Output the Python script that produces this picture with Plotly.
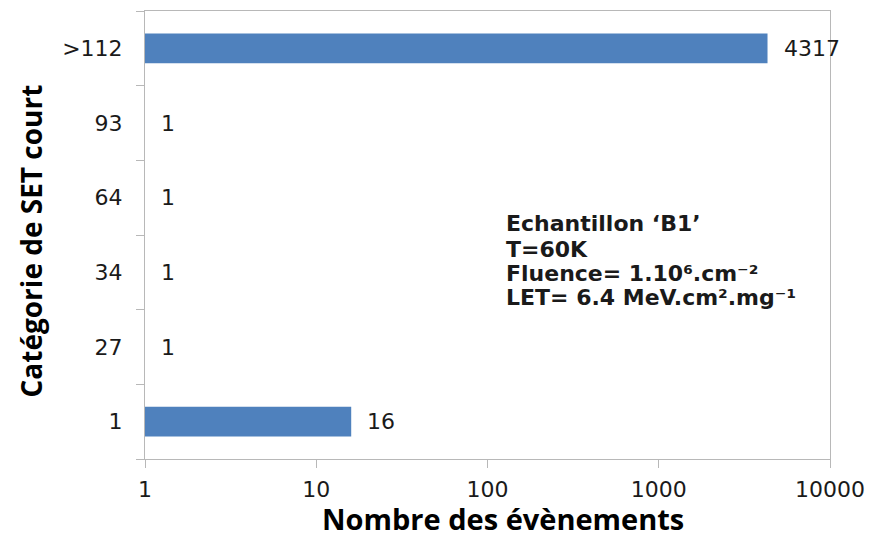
import numpy as np
import plotly.graph_objects as go

# Short-SET category counts (horizontal bars on a log scale)
categories = ["1", "27", "34", "64", "93", ">112"]
events = [16, 1, 1, 1, 1, 4317]

x_tick_values = [1, 10, 100, 1000, 10000]
x_tick_labels = ["1", "10", "100", "1000", "10000"]

info_lines = [
    "Echantillon ‘B1’",
    "T=60K",
    "Fluence= 1.10⁶.cm⁻²",
    "LET= 6.4 MeV.cm².mg⁻¹",
]

BAR_COLOR = "#4f81bd"
FRAME_COLOR = "#b8b8b8"
TEXT_COLOR = "#1a1a1a"
LABEL_FONT = "DejaVu Sans"
TITLE_FONT = "Open Sans"

W, H = 875, 535
M_L, M_R, M_T, M_B = 145, 39, 10, 76
plot_w = W - M_L - M_R
plot_h = H - M_T - M_B


def px_to_paper_x(px):
    return (px - M_L) / plot_w


def px_to_paper_y(py):
    return (H - M_B - py) / plot_h


fig = go.Figure(
    go.Bar(
        y=categories,
        x=events,
        orientation="h",
        width=0.4,
        marker=dict(color=BAR_COLOR, line=dict(width=0)),
        hoverinfo="x+y",
    )
)

annotations = []

# value labels to the right of each bar (category positions given by index)
for idx, val in enumerate(events):
    annotations.append(
        dict(
            x=np.log10(val), y=idx, xref="x", yref="y",
            text=str(val), showarrow=False,
            xanchor="left", yanchor="middle", xshift=14,
            font=dict(family=LABEL_FONT, size=22, color=TEXT_COLOR),
        )
    )

# experimental conditions block
info_y = [223, 249, 273, 297]
for line, py in zip(info_lines, info_y):
    annotations.append(
        dict(
            x=px_to_paper_x(507), y=px_to_paper_y(py), xref="paper", yref="paper",
            text="<b>" + line + "</b>", showarrow=False,
            xanchor="left", yanchor="middle",
            font=dict(family=LABEL_FONT, size=22, color=TEXT_COLOR),
        )
    )

# axis titles
annotations.append(
    dict(
        x=px_to_paper_x(506), y=px_to_paper_y(519), xref="paper", yref="paper",
        text="<b>Nombre des évènements</b>", showarrow=False,
        xanchor="center", yanchor="middle",
        font=dict(family=TITLE_FONT, size=29, color="#000000"),
    )
)
annotations.append(
    dict(
        x=px_to_paper_x(30), y=px_to_paper_y(240), xref="paper", yref="paper",
        text="<b>Catégorie de SET court</b>", showarrow=False, textangle=-90,
        xanchor="center", yanchor="middle",
        font=dict(family=TITLE_FONT, size=28, color="#000000"),
    )
)

fig.update_layout(
    width=W,
    height=H,
    margin=dict(l=M_L, r=M_R, t=M_T, b=M_B, pad=0),
    paper_bgcolor="white",
    plot_bgcolor="white",
    showlegend=False,
    annotations=annotations,
    xaxis=dict(
        type="log",
        range=[0, 4],
        tickvals=x_tick_values,
        ticktext=x_tick_labels,
        ticks="outside",
        ticklen=8,
        tickwidth=1,
        tickcolor=FRAME_COLOR,
        showline=True,
        linecolor=FRAME_COLOR,
        linewidth=1,
        mirror=True,
        showgrid=False,
        zeroline=False,
        ticklabelstandoff=3,
        tickfont=dict(family=LABEL_FONT, size=22, color=TEXT_COLOR),
    ),
    yaxis=dict(
        type="category",
        categoryorder="array",
        categoryarray=categories,
        range=[-0.5, len(categories) - 0.5],
        tickson="boundaries",
        ticks="outside",
        ticklen=8,
        tickwidth=1,
        tickcolor=FRAME_COLOR,
        showline=True,
        linecolor=FRAME_COLOR,
        linewidth=1,
        mirror=True,
        showgrid=False,
        zeroline=False,
        ticklabelstandoff=17,
        tickfont=dict(family=LABEL_FONT, size=22, color=TEXT_COLOR),
    ),
)

fig.write_html("out.html")
